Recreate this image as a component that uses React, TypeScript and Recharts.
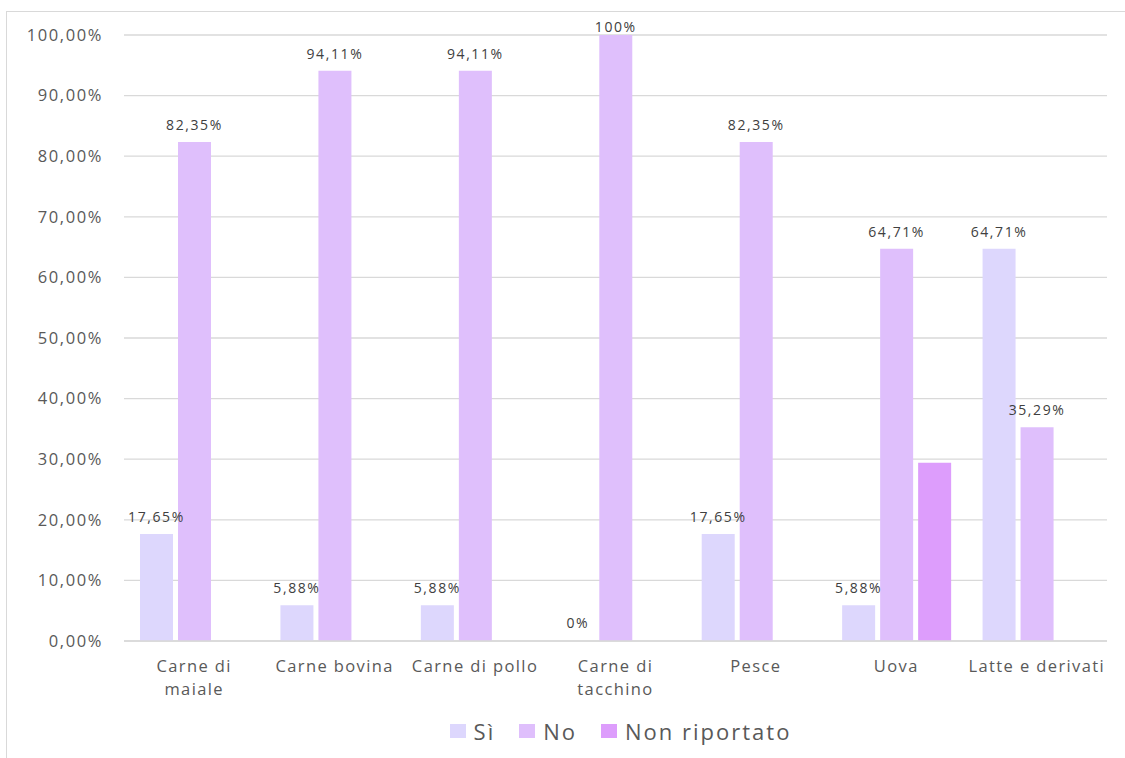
import React from 'react';
import { BarChart, Bar, XAxis, YAxis, CartesianGrid, LabelList, Legend } from 'recharts';

const categories = ['Carne di\nmaiale', 'Carne bovina', 'Carne di pollo', 'Carne di\ntacchino', 'Pesce', 'Uova', 'Latte e derivati'];
const siValues = [17.65, 5.88, 5.88, 0, 17.65, 5.88, 64.71];
const noValues = [82.35, 94.11, 94.11, 100, 82.35, 64.71, 35.29];
const nonRiportatoValues: (number | null)[] = [null, null, null, null, null, 29.41, null];
const yTicks = [0, 10, 20, 30, 40, 50, 60, 70, 80, 90, 100];
const seriesNames = ['Sì', 'No', 'Non riportato'];
const seriesColors = ['#ddd7fd', '#dfbffc', '#dd9dfc'];

const data = categories.map((c, i) => ({
  cat: c,
  si: siValues[i],
  no: noValues[i],
  nr: nonRiportatoValues[i],
}));

const FONT = '"Open Sans", sans-serif';
const TEXT = '#595959';
const BAR_SIZE = 33;
const BAR_GAP = 5;

const fmtLabel = (v: any) => {
  if (v === null || v === undefined) return '';
  const n = Number(v);
  if (Number.isInteger(n)) return `${n}%`;
  return `${n.toFixed(2).replace('.', ',')}%`;
};
const fmtTick = (v: any) => `${Number(v).toFixed(2).replace('.', ',')}%`;

const labelStyle = { fontFamily: FONT, fontSize: 14, letterSpacing: 1.6 };

const ValueLabel = (props: any) => {
  const { x, y, width, value } = props;
  if (value === null || value === undefined) return null;
  const baseline = Math.max(Number(y) - 12, 32);
  return (
    <text x={Number(x) + Number(width) / 2} y={baseline} textAnchor="middle" fill="#404040" style={labelStyle}>
      {fmtLabel(value)}
    </text>
  );
};

// No-series label; also draws the Sì label when the Sì bar has zero height (not rendered by the library)
const NoLabel = (props: any) => {
  const { x, y, width, height, value, index } = props;
  const si = siValues[index];
  const bottom = Number(y) + Number(height);
  return (
    <g>
      <ValueLabel {...props} />
      {si === 0 && (
        <text x={Number(x) - BAR_GAP - BAR_SIZE / 2 + 0} y={bottom - 13} textAnchor="middle" fill="#404040" style={labelStyle}>
          {fmtLabel(si)}
        </text>
      )}
    </g>
  );
};

const XTick = (props: any) => {
  const { x, y, payload } = props;
  const lines = String(payload.value).split('\n');
  return (
    <g>
      {lines.map((l, i) => (
        <text key={i} x={x} y={y + 23 + i * 23} textAnchor="middle" fill={TEXT}
          style={{ fontFamily: FONT, fontSize: 16.5, letterSpacing: 1.4 }}>
          {l}
        </text>
      ))}
    </g>
  );
};

const LegendContent = () => (
  <div style={{ display: 'flex', justifyContent: 'center', alignItems: 'center', fontFamily: FONT, fontSize: 22, color: TEXT, letterSpacing: 2 }}>
    {seriesNames.map((n, i) => (
      <div key={n} style={{ display: 'flex', alignItems: 'center', marginRight: i < 2 ? 24 : 0 }}>
        <div style={{ width: 16, height: 14, background: seriesColors[i], marginRight: 8 }} />
        <span>{n}</span>
      </div>
    ))}
  </div>
);

export default function App() {
  return (
    <div style={{ position: 'absolute', left: 0, top: 0, width: 1125, height: 758, overflow: 'hidden', background: '#fff' }}>
      <div style={{ position: 'absolute', left: 6, top: 11, width: 1130, height: 770, border: '1px solid #d9d9d9', boxSizing: 'border-box' }} />
      <div style={{ position: 'absolute', left: 0, top: 0 }}>
        <BarChart width={1125} height={758} data={data} margin={{ top: 35, right: 18, left: 0, bottom: 0 }}
          barSize={BAR_SIZE} barGap={BAR_GAP}>
          <CartesianGrid vertical={false} stroke="#d9d9d9" strokeWidth={1.3} />
          <XAxis dataKey="cat" height={117} tickLine={false} axisLine={{ stroke: '#d9d9d9', strokeWidth: 1.3 }}
            tick={<XTick />} interval={0} />
          <YAxis width={124} domain={[0, 100]} ticks={yTicks} tickFormatter={fmtTick} axisLine={false} tickLine={false}
            tickMargin={15} tick={{ fill: TEXT, fontFamily: FONT, fontSize: 16.5, letterSpacing: 1.6 }} />
          <Legend layout="horizontal" verticalAlign="middle" align="center" content={<LegendContent />}
            wrapperStyle={{ top: 716, left: 116, width: 1009 }} />
          <Bar dataKey="si" name={seriesNames[0]} fill={seriesColors[0]} isAnimationActive={false}>
            <LabelList dataKey="si" content={<ValueLabel />} />
          </Bar>
          <Bar dataKey="no" name={seriesNames[1]} fill={seriesColors[1]} isAnimationActive={false}>
            <LabelList dataKey="no" content={<NoLabel />} />
          </Bar>
          <Bar dataKey="nr" name={seriesNames[2]} fill={seriesColors[2]} isAnimationActive={false} />
        </BarChart>
      </div>
    </div>
  );
}
